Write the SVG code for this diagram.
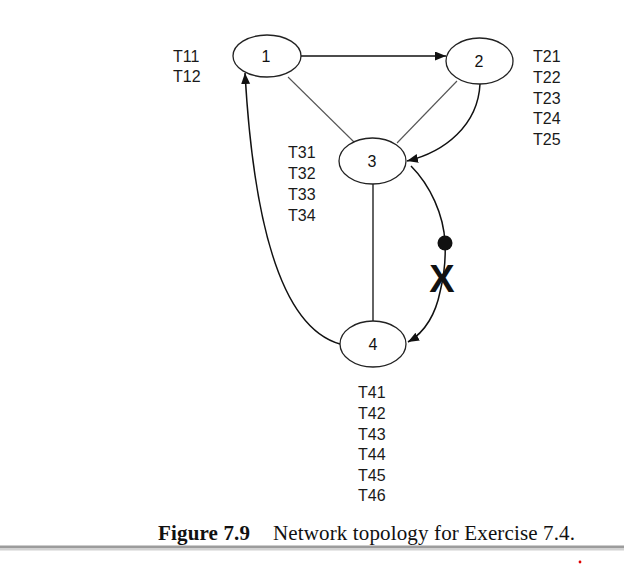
<svg xmlns="http://www.w3.org/2000/svg" width="624" height="565" viewBox="0 0 624 565">
<style>
.node ellipse{fill:#fff;stroke:#222;stroke-width:1.3}
.num{font-family:"Liberation Sans",Arial,sans-serif;font-size:16px;fill:#111;text-anchor:middle}
.lbl{font-family:"Liberation Sans",Arial,sans-serif;font-size:16px;fill:#1a1a1a}
.arr{fill:none;stroke:#111;stroke-width:1.5}
.ln{fill:none;stroke:#555;stroke-width:1.1}
.cap{font-family:"Liberation Serif","Times New Roman",serif;font-size:21px;fill:#111}
</style>
<defs>
<marker id="ah" markerUnits="userSpaceOnUse" markerWidth="12" markerHeight="10" refX="11" refY="4.5" orient="auto">
<path d="M0,0 L11,4.5 L0,9 z" fill="#111"/>
</marker>
</defs>
<rect width="624" height="565" fill="#fff"/>
<g id="connectors">
<path class="ln" d="M288,77 L354,142"/>
<path class="ln" d="M457,81 L397,143"/>
<path fill="none" stroke="#222" stroke-width="1.4" d="M373,184 L373,321"/>
<path class="arr" d="M300,56 L446,56" marker-end="url(#ah)"/>
<path class="arr" d="M480,84 C478,125 445,152 407,161" marker-end="url(#ah)"/>
<path class="arr" d="M340,344 C290,330 255,250 245,73" marker-end="url(#ah)"/>
<path class="arr" d="M411,166 C430,185 444,215 445,243 C446,262 443,280 440,292 C436,312 426,332 408,342" marker-end="url(#ah)"/>
<circle cx="445" cy="243" r="7.5" fill="#111"/>
<text x="442" y="292" font-family="Liberation Sans,Arial,sans-serif" font-size="38" font-weight="bold" text-anchor="middle" fill="#111">X</text>
</g>
<g id="node1" class="node">
<ellipse cx="267" cy="56" rx="34" ry="21"/>
<text class="num" x="266" y="62">1</text>
</g>
<g id="node2" class="node">
<ellipse cx="479.5" cy="61" rx="33.5" ry="23"/>
<text class="num" x="479" y="67">2</text>
</g>
<g id="node3" class="node">
<ellipse cx="372.5" cy="161" rx="33.5" ry="23"/>
<text class="num" x="372" y="167">3</text>
</g>
<g id="node4" class="node">
<ellipse cx="373" cy="344" rx="33" ry="23"/>
<text class="num" x="373" y="350">4</text>
</g>
<g id="labels">
<text class="lbl" x="173" y="62">T11</text>
<text class="lbl" x="173" y="82">T12</text>
<text class="lbl" x="533" y="62">T21</text>
<text class="lbl" x="533" y="83">T22</text>
<text class="lbl" x="533" y="104">T23</text>
<text class="lbl" x="533" y="124">T24</text>
<text class="lbl" x="533" y="145">T25</text>
<text class="lbl" x="288" y="158">T31</text>
<text class="lbl" x="288" y="179">T32</text>
<text class="lbl" x="288" y="200">T33</text>
<text class="lbl" x="288" y="221">T34</text>
<text class="lbl" x="358" y="398">T41</text>
<text class="lbl" x="358" y="419">T42</text>
<text class="lbl" x="358" y="440">T43</text>
<text class="lbl" x="358" y="460">T44</text>
<text class="lbl" x="358" y="481">T45</text>
<text class="lbl" x="358" y="501">T46</text>
</g>
<g id="caption">
<text class="cap" x="158" y="540" font-weight="bold" textLength="92">Figure 7.9</text>
<text class="cap" x="273" y="540" textLength="302">Network topology for Exercise 7.4.</text>
<rect x="0" y="545.5" width="624" height="2.5" fill="#9c9c9c"/>
<rect x="0" y="548" width="624" height="2.5" fill="#d2d2d2"/>
<circle cx="580" cy="562" r="1.4" fill="#e00000"/>
</g>
</svg>
